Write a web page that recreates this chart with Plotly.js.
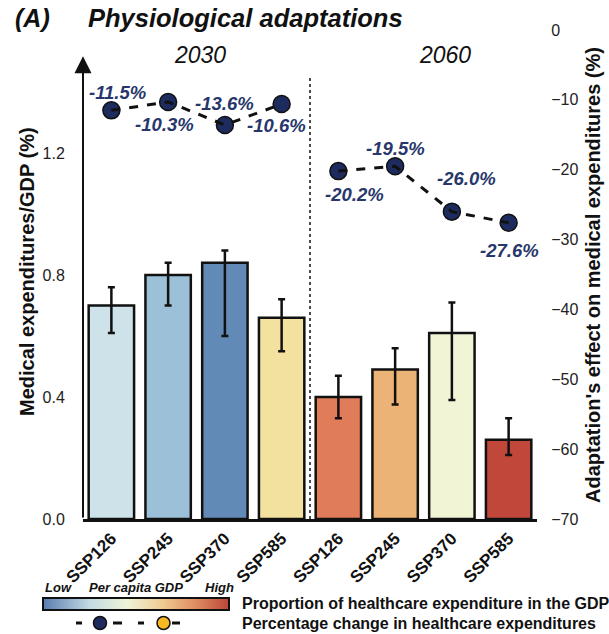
<!DOCTYPE html>
<html>
<head>
<meta charset="utf-8">
<script src="https://cdn.plot.ly/plotly-3.0.1.min.js"></script>
<style>
  html, body { margin: 0; padding: 0; background: #fff; }
  #chart { width: 609px; height: 634px; }
</style>
</head>
<body>
<div id="chart"></div>
<script>
// Scenario labels and the two projection years
const scenarios = ['SSP126', 'SSP245', 'SSP370', 'SSP585'];
const periods = ['2030', '2060'];

// Medical expenditures as a share of GDP (%), with uncertainty bounds
const share2030 = [0.70, 0.80, 0.84, 0.66];
const shareHigh2030 = [0.76, 0.84, 0.88, 0.72];
const shareLow2030 = [0.61, 0.70, 0.60, 0.55];
const share2060 = [0.40, 0.49, 0.61, 0.26];
const shareHigh2060 = [0.47, 0.56, 0.71, 0.33];
const shareLow2060 = [0.33, 0.375, 0.39, 0.21];

// Adaptation's effect on medical expenditures (%)
const effect2030 = [-11.5, -10.3, -13.6, -10.6];
const effect2060 = [-20.2, -19.5, -26.0, -27.6];

// Bar fills, coloured by per capita GDP
const barColors2030 = ['#cde2e9', '#9bc0d7', '#628ab6', '#f3e19f'];
const barColors2060 = ['#e07c59', '#ecb377', '#f1f5d6', '#c0473a'];

// Per capita GDP colour ramp (low -> high)
const gdpScale = [
  [0.00, '#5a7db0'],
  [0.25, '#c2dae3'],
  [0.45, '#eef3d8'],
  [0.65, '#efc98f'],
  [0.82, '#de8c62'],
  [1.00, '#bc4638']
];

// Label offsets (px) around each effect marker
const labelDx = [6, -4, 0, -5, 16, 0, 15, 1];
const labelDy = [-18, 23, -22, 21, 23, -18, -33, 28];

const FONT = 'Liberation Sans, Arial, Helvetica, sans-serif';
const INK = '#111111';
const NAVY = '#1d2b5f';
const LABEL_NAVY = '#27376b';

// Plot area in pixels
const W = 609, H = 634;
const plotL = 83, plotR = 537, plotT = 30, plotB = 519;
const px = v => (v - plotL) / (plotR - plotL);
const py = v => (plotB - v) / (plotB - plotT);

// Assemble the series across both periods
const nS = scenarios.length;
const xPos = [...Array(nS * periods.length).keys()];
const xs2030 = xPos.slice(0, nS);
const xs2060 = xPos.slice(nS);
const share = share2030.concat(share2060);
const shareHigh = shareHigh2030.concat(shareHigh2060);
const shareLow = shareLow2030.concat(shareLow2060);
const barColors = barColors2030.concat(barColors2060);
const effect = effect2030.concat(effect2060);
const tickText = scenarios.concat(scenarios);

const bars = {
  type: 'bar',
  x: xPos,
  y: share,
  width: 0.8,
  marker: { color: barColors, line: { color: INK, width: 2.5 } },
  error_y: {
    type: 'data',
    symmetric: false,
    array: share.map((v, i) => shareHigh[i] - v),
    arrayminus: share.map((v, i) => v - shareLow[i]),
    color: INK,
    thickness: 2.5,
    width: 3.5
  },
  hoverinfo: 'skip',
  showlegend: false
};

function effectMarkers(xs, ys) {
  return {
    type: 'scatter', mode: 'markers', x: xs, y: ys, yaxis: 'y2',
    marker: { size: 17, color: NAVY, line: { color: INK, width: 1.5 } },
    hoverinfo: 'skip', showlegend: false
  };
}
function effectLine(xs, ys) {
  return {
    type: 'scatter', mode: 'lines', x: xs, y: ys, yaxis: 'y2',
    line: { color: INK, width: 3, dash: 'dash' },
    hoverinfo: 'skip', showlegend: false
  };
}

const traces = [
  bars,
  effectMarkers(xs2030, effect2030),
  effectMarkers(xs2060, effect2060),
  effectLine(xs2030, effect2030),
  effectLine(xs2060, effect2060)
];

const annotations = [];

// Effect value labels
effect.forEach((v, i) => {
  annotations.push({
    x: xPos[i], y: v, xref: 'x', yref: 'y2',
    text: v.toFixed(1) + '%',
    showarrow: false,
    xshift: labelDx[i], yshift: -labelDy[i],
    font: { family: FONT, size: 18.5, color: LABEL_NAVY, weight: 'bold', style: 'italic' }
  });
});

// Left axis drawn as an arrow
annotations.push({
  x: -0.5, y: 1.517, xref: 'x', yref: 'y',
  ax: -0.5, ay: 0, axref: 'x', ayref: 'y',
  text: '', showarrow: true,
  arrowhead: 2, arrowsize: 1.7, arrowwidth: 2, arrowcolor: INK, standoff: 0
});

// Panel tag and title
annotations.push({
  x: px(13), y: py(18), xref: 'paper', yref: 'paper', xanchor: 'left', yanchor: 'middle',
  text: '(A)', showarrow: false,
  font: { family: FONT, size: 25, color: INK, weight: 'bold', style: 'italic' }
});
annotations.push({
  x: px(86), y: py(18), xref: 'paper', yref: 'paper', xanchor: 'left', yanchor: 'middle',
  text: 'Physiological adaptations', showarrow: false,
  font: { family: FONT, size: 25.5, color: INK, weight: 'bold', style: 'italic' }
});

// Period headers
[[200, periods[0]], [445, periods[1]]].forEach(([cx, t]) => {
  annotations.push({
    x: px(cx), y: py(55), xref: 'paper', yref: 'paper', xanchor: 'center', yanchor: 'middle',
    text: t, showarrow: false,
    font: { family: FONT, size: 23, color: INK, style: 'italic' }
  });
});

// Axis titles
annotations.push({
  x: px(27), y: py(272), xref: 'paper', yref: 'paper', xanchor: 'center', yanchor: 'middle',
  text: 'Medical expenditures/GDP (%)', textangle: -90, showarrow: false,
  font: { family: FONT, size: 20, color: INK, weight: 'bold' }
});
annotations.push({
  x: px(593), y: py(275), xref: 'paper', yref: 'paper', xanchor: 'center', yanchor: 'middle',
  text: "Adaptation's effect on medical expenditures (%)", textangle: -90, showarrow: false,
  font: { family: FONT, size: 20, color: INK, weight: 'bold' }
});

// Legend texts
const legendSmall = { family: FONT, size: 13, color: INK, weight: 'bold', style: 'italic' };
[[58, 'Low'], [136, 'Per capita GDP'], [219, 'High']].forEach(([cx, t]) => {
  annotations.push({
    x: px(cx), y: py(587), xref: 'paper', yref: 'paper', xanchor: 'center', yanchor: 'middle',
    text: t, showarrow: false, font: legendSmall
  });
});
[[603, 'Proportion of healthcare expenditure in the GDP'],
 [623, 'Percentage change in healthcare expenditures']].forEach(([cy, t]) => {
  annotations.push({
    x: px(240), y: py(cy), xref: 'paper', yref: 'paper', xanchor: 'left', yanchor: 'middle',
    text: t, showarrow: false,
    font: { family: FONT, size: 16, color: INK, weight: 'bold' }
  });
});

const shapes = [
  // Divider between the two periods
  {
    type: 'line', xref: 'x', yref: 'y', x0: 3.5, x1: 3.5, y0: 0, y1: 1.45,
    line: { color: INK, width: 1.5, dash: 'dot' }
  }
];

// Per capita GDP colour ramp as an SVG gradient
const rampL = 43, rampR = 229, rampT = 598, rampB = 610;
const stops = gdpScale.map(([o, c]) => `<stop offset='${o}' stop-color='${c}'/>`).join('');
const rampSvg =
  `<svg xmlns='http://www.w3.org/2000/svg' width='200' height='20' viewBox='0 0 200 20' preserveAspectRatio='none'>` +
  `<defs><linearGradient id='g' x1='0' y1='0' x2='1' y2='0'>${stops}</linearGradient></defs>` +
  `<rect x='0' y='0' width='200' height='20' fill='url(#g)'/></svg>`;
const images = [{
  source: 'data:image/svg+xml;charset=utf-8,' + encodeURIComponent(rampSvg),
  xref: 'paper', yref: 'paper',
  x: px(rampL), y: py(rampT),
  sizex: px(rampR) - px(rampL), sizey: py(rampT) - py(rampB),
  xanchor: 'left', yanchor: 'top', sizing: 'stretch', layer: 'above'
}];
shapes.push({
  type: 'rect', xref: 'paper', yref: 'paper',
  x0: px(rampL), x1: px(rampR), y0: py(rampB), y1: py(rampT),
  line: { color: INK, width: 2 }, fillcolor: 'rgba(0,0,0,0)'
});

// Legend glyphs: dash - circle - dash
function legendGlyph(cx, fill, dashL, dashR) {
  const cy = 623, r = 6.5;
  shapes.push({
    type: 'line', xref: 'paper', yref: 'paper',
    x0: px(dashL[0]), x1: px(dashL[1]), y0: py(cy), y1: py(cy),
    line: { color: INK, width: 3 }
  });
  shapes.push({
    type: 'line', xref: 'paper', yref: 'paper',
    x0: px(dashR[0]), x1: px(dashR[1]), y0: py(cy), y1: py(cy),
    line: { color: INK, width: 3 }
  });
  shapes.push({
    type: 'circle', xref: 'paper', yref: 'paper',
    x0: px(cx - r), x1: px(cx + r), y0: py(cy + r), y1: py(cy - r),
    fillcolor: fill, line: { color: INK, width: 1.5 }
  });
}
legendGlyph(100, NAVY, [76, 82], [113, 122]);
legendGlyph(163.5, '#f6b922', [138, 144], [172, 180]);

const layout = {
  width: W, height: H,
  margin: { l: plotL, r: W - plotR, t: plotT, b: H - plotB, pad: 0, autoexpand: false },
  paper_bgcolor: '#ffffff', plot_bgcolor: '#ffffff',
  font: { family: FONT, color: INK },
  showlegend: false,
  bargap: 0.2,
  xaxis: {
    range: [-0.5, 7.5],
    tickvals: xPos, ticktext: tickText, tickangle: -45,
    tickfont: { family: FONT, size: 17, color: INK, weight: 'bold' },
    ticks: '', ticklen: 0,
    showline: true, linewidth: 3, linecolor: INK,
    showgrid: false, zeroline: false, fixedrange: true
  },
  yaxis: {
    range: [0, 1.603],
    tickvals: [0, 0.4, 0.8, 1.2], tickformat: '.1f',
    tickfont: { family: FONT, size: 16, color: '#222' },
    ticks: 'outside', ticklen: 14, tickcolor: 'rgba(0,0,0,0)',
    showline: false, showgrid: false, zeroline: false, fixedrange: true
  },
  yaxis2: {
    overlaying: 'y', side: 'right', anchor: 'x',
    range: [-70, 0], dtick: 10,
    tickfont: { family: FONT, size: 16, color: '#222' },
    ticks: 'outside', ticklen: 10, tickcolor: 'rgba(0,0,0,0)',
    showline: false, showgrid: false, zeroline: false, fixedrange: true
  },
  annotations: annotations,
  shapes: shapes,
  images: images
};

Plotly.newPlot('chart', traces, layout, { staticPlot: true, displayModeBar: false });
</script>
</body>
</html>
